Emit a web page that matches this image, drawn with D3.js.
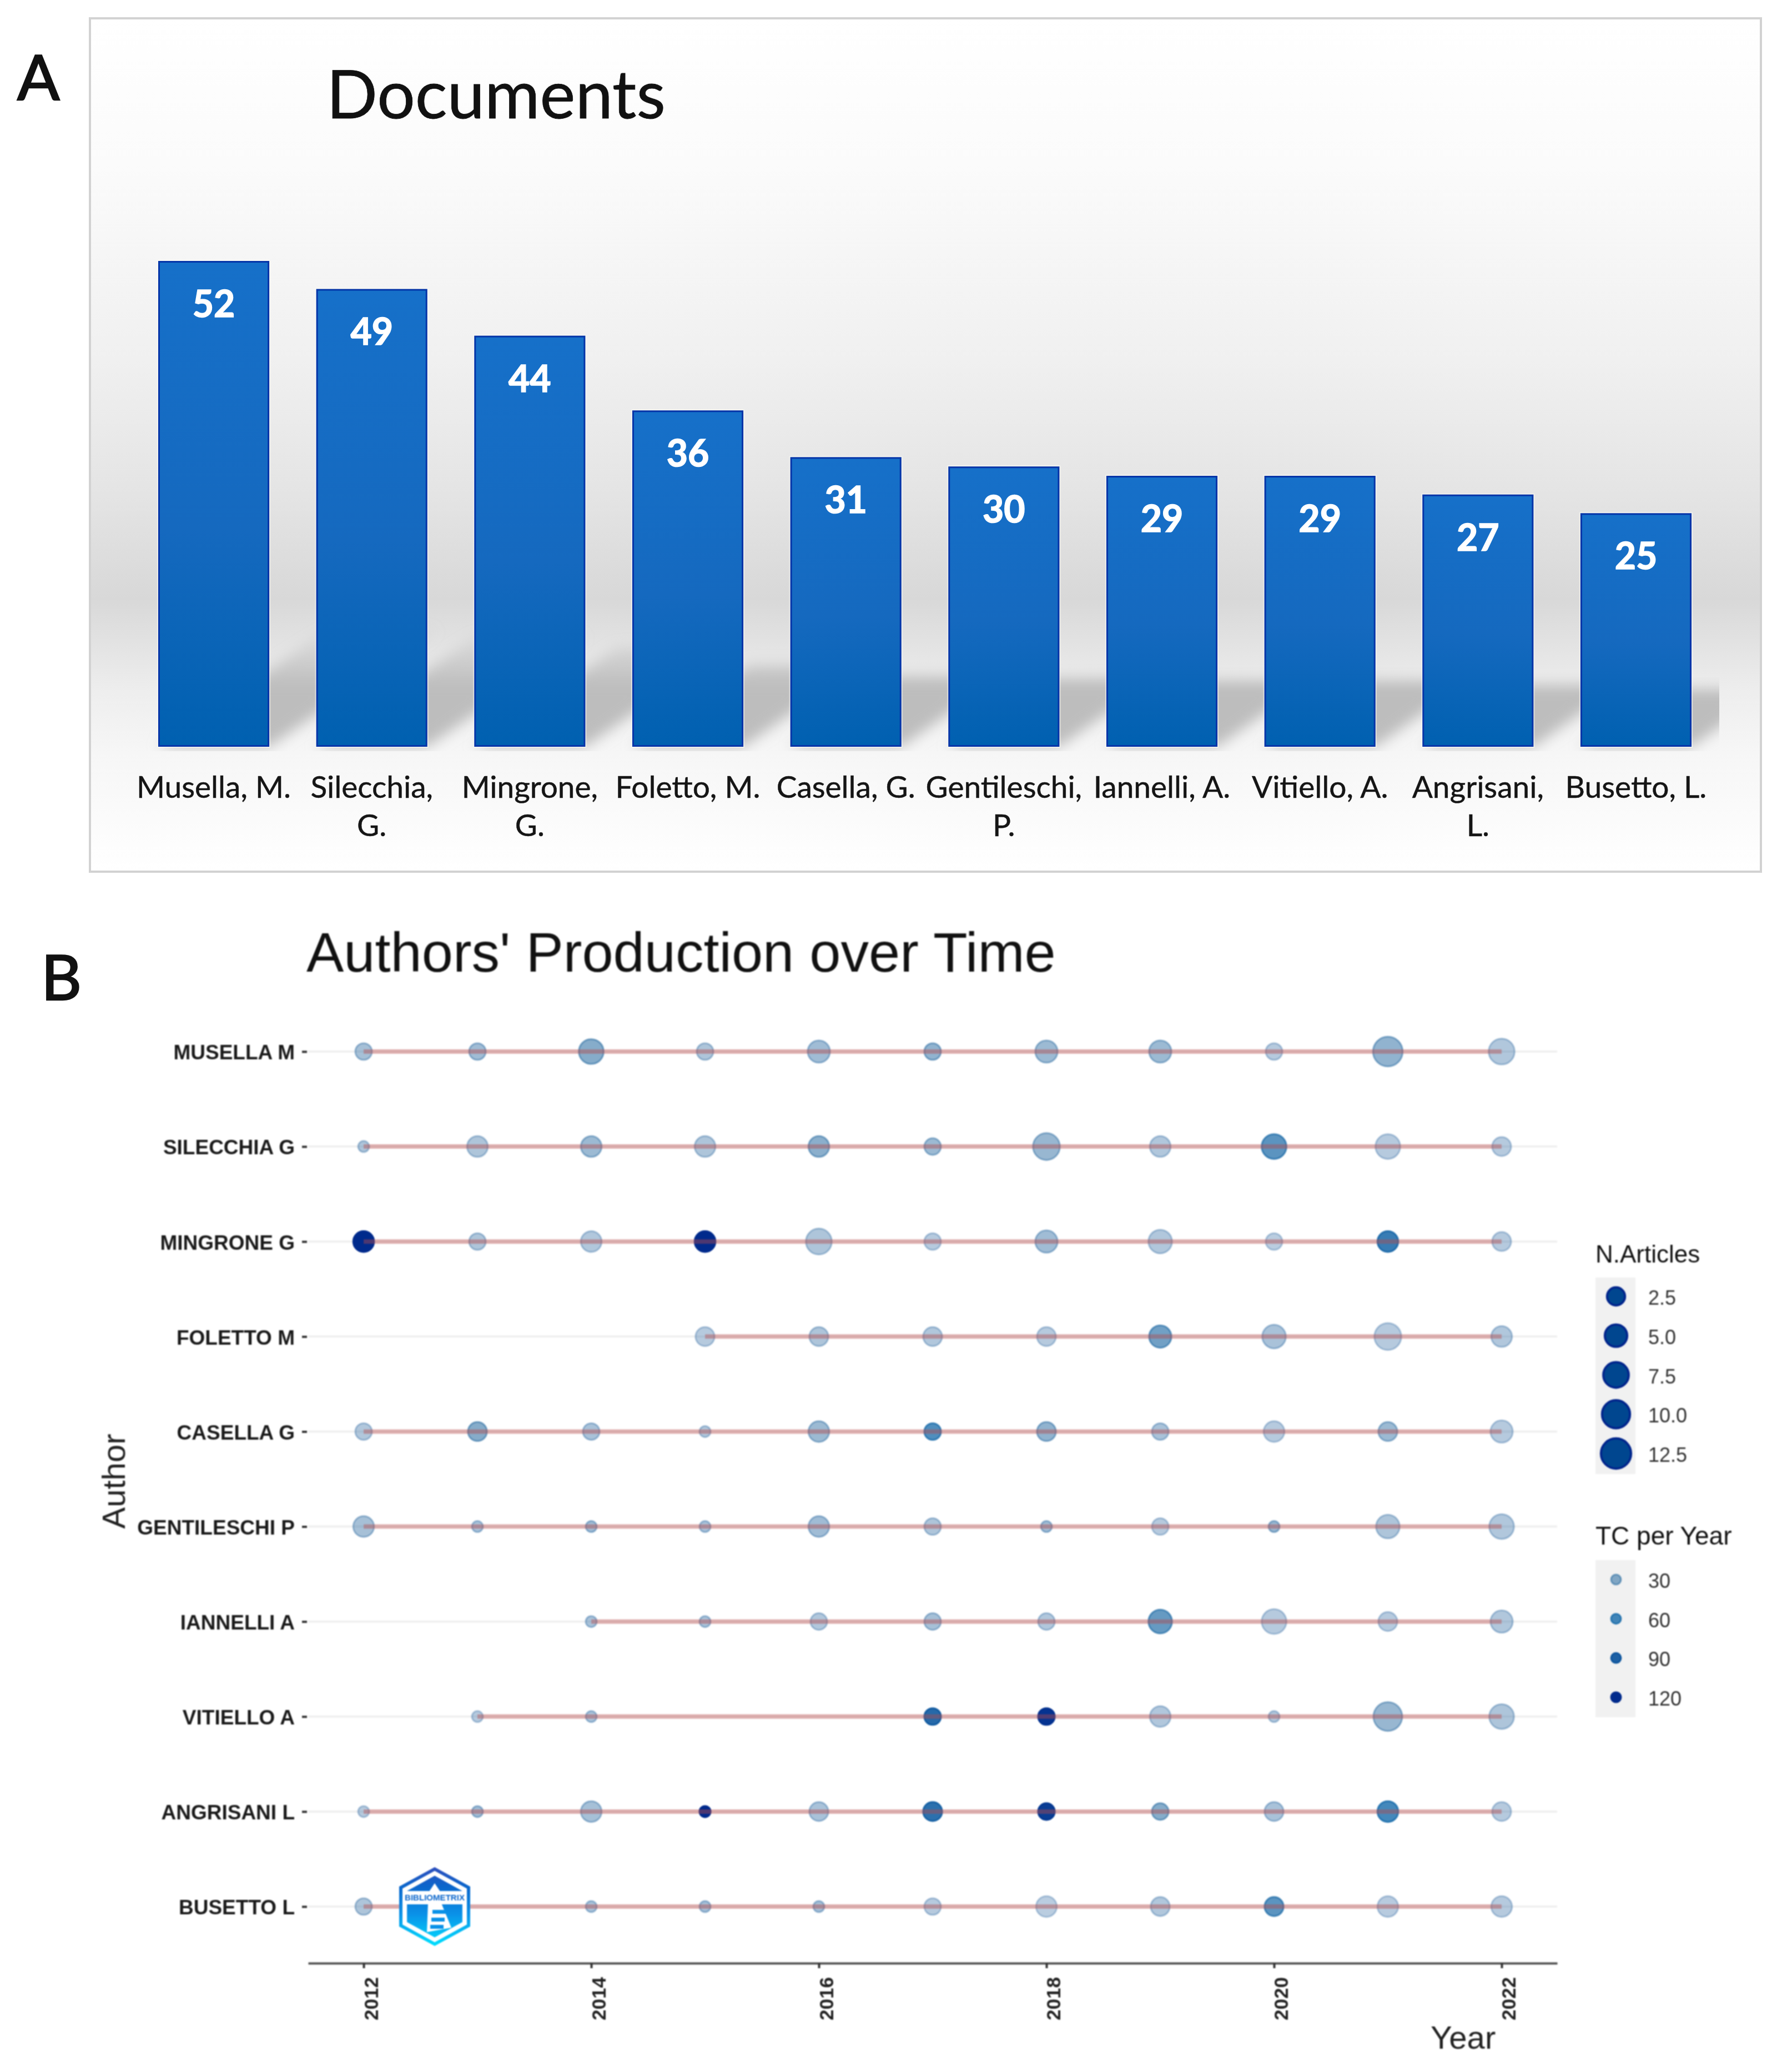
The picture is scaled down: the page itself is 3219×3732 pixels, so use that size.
<!DOCTYPE html>
<html>
<head>
<meta charset="utf-8">
<script src="https://cdn.jsdelivr.net/npm/d3@7/dist/d3.min.js"></script>
<style>
html,body{margin:0;padding:0;background:#fff}
svg{display:block}
</style>
</head>
<body>
<svg id="chart" width="3219" height="3732" viewBox="0 0 3219 3732"></svg>
<script>
// ---------- Panel A data ----------
const categories = ["Musella, M.","Silecchia, G.","Mingrone, G.","Foletto, M.","Casella, G.","Gentileschi, P.","Iannelli, A.","Vitiello, A.","Angrisani, L.","Busetto, L."];
const documents = [52,49,44,36,31,30,29,29,27,25];

// ---------- Panel B data ----------
const authors = ["MUSELLA M","SILECCHIA G","MINGRONE G","FOLETTO M","CASELLA G","GENTILESCHI P","IANNELLI A","VITIELLO A","ANGRISANI L","BUSETTO L"];
const years = [2012,2013,2014,2015,2016,2017,2018,2019,2020,2021,2022];
const yearTicks = [2012,2014,2016,2018,2020,2022];
const articlesByAuthor = [
  [2,2,7,2,5,2,5,5,2,12,8],
  [1,4,4,4,4,2,9,4,7,7,3],
  [4,2,4,4,8,2,5,6,2,4,3],
  [null,null,null,3,3,3,3,5,6,9,4],
  [2,3,2,1,4,2,3,2,4,3,5],
  [4,1,1,1,4,2,1,2,1,6,7],
  [null,null,1,1,2,2,2,6,7,3,5],
  [null,1,1,null,null,2,2,4,1,11,7],
  [1,1,4,1,3,3,2,2,3,4,3],
  [2,null,1,1,1,2,4,3,3,4,4]
];
const tcByAuthor = [
  [15,18,30,12,18,25,20,20,8,25,10],
  [12,12,20,12,28,20,22,10,50,8,8],
  [120,12,10,125,12,8,18,10,6,70,8],
  [null,null,null,8,12,10,8,40,14,8,10],
  [10,30,14,10,20,55,25,14,8,20,8],
  [15,14,18,14,18,12,18,8,22,12,10],
  [null,null,14,14,10,15,10,45,8,8,10],
  [null,8,14,null,null,85,115,10,10,22,12],
  [8,18,15,130,14,80,110,30,14,60,8],
  [12,null,14,16,16,8,6,10,50,7,8]
];
const sizeLegend = [2.5,5,7.5,10,12.5];
const alphaLegend = [30,60,90,120];

const svg = d3.select("#chart");
const defs = svg.append("defs");
const SANS = "'Liberation Sans',Arial,sans-serif";
const HUM = "Lato,'Open Sans',sans-serif";

function stops(grad, list){
  list.forEach(s=>{
    const st = grad.append("stop").attr("offset",s[0]).attr("stop-color",s[1]);
    if(s[2]!==undefined) st.attr("stop-opacity",s[2]);
  });
}
const panelBg = defs.append("linearGradient").attr("id","panelBg")
  .attr("gradientUnits","userSpaceOnUse").attr("x1",0).attr("x2",0).attr("y1",33).attr("y2",1570);
stops(panelBg,[[0,"#ffffff"],[.17,"#fbfbfb"],[.4,"#f0f0f0"],[.56,"#e4e4e4"],[.68,"#d8d8d8"],[.71,"#dedede"],[.79,"#eeeeee"],[.86,"#f6f6f6"],[1,"#ffffff"]]);

const barFill = defs.append("linearGradient").attr("id","barFill").attr("x1",0).attr("x2",0).attr("y1",0).attr("y2",1);
stops(barFill,[[0,"#1670c9"],[.55,"#1569bf"],[1,"#0060b0"]]);

const shadowFill = defs.append("linearGradient").attr("id","shadowFill")
  .attr("gradientUnits","userSpaceOnUse").attr("x1",0).attr("x2",0).attr("y1",1140).attr("y2",1235);
stops(shadowFill,[[0,"#bdbdbd",.15],[1,"#bdbdbd",1]]);

defs.append("filter").attr("id","shadowBlur").attr("x","-20%").attr("y","-20%").attr("width","140%").attr("height","140%")
  .append("feGaussianBlur").attr("stdDeviation",12);
defs.append("clipPath").attr("id","shadowClip").append("rect")
  .attr("x",161).attr("y",33).attr("width",2936).attr("height",1320);

// ---------- Panel A ----------
const A = svg.append("g").style("filter","blur(0.7px)");
A.append("rect").attr("x",162).attr("y",33).attr("width",3010).attr("height",1537)
  .attr("fill","url(#panelBg)").attr("stroke","#d2d2d2").attr("stroke-width",4);

const xBar = d3.scaleBand().domain(categories).range([242.7,3089.3]).paddingInner(.297).paddingOuter(.1485);
const yBar = d3.scaleLinear().domain([0,52]).range([1345,470]);

const shadowG = A.append("g").attr("clip-path","url(#shadowClip)");
shadowG.selectAll("path").data(documents).join("path")
  .attr("d",(d,i)=>{
    const x0 = xBar(categories[i]), x1 = x0 + xBar.bandwidth();
    const h = yBar(0)-yBar(d), dx = h*.347, ht = h*.233+6, b = yBar(0);
    return d3.line()([[x0,b],[x1,b],[x1+dx,b-ht],[x0+dx,b-ht]])+"Z";
  })
  .attr("fill","url(#shadowFill)").style("filter","url(#shadowBlur)");

A.selectAll("rect.halo").data(documents).join("rect").attr("class","halo")
  .attr("x",(d,i)=>xBar(categories[i])-2).attr("width",xBar.bandwidth()+4)
  .attr("y",d=>yBar(d)-2).attr("height",d=>yBar(0)-yBar(d)+4)
  .attr("fill","#fbfbf6").attr("opacity",.55);
A.selectAll("rect.bar").data(documents).join("rect").attr("class","bar")
  .attr("x",(d,i)=>xBar(categories[i])+1.5).attr("width",xBar.bandwidth()-3)
  .attr("y",d=>yBar(d)+1.5).attr("height",d=>yBar(0)-yBar(d)-3)
  .attr("fill","url(#barFill)").attr("stroke","#0434a8").attr("stroke-width",3);

A.selectAll("text.val").data(documents).join("text").attr("class","val")
  .attr("x",(d,i)=>xBar(categories[i])+xBar.bandwidth()/2).attr("y",d=>yBar(d)+101)
  .attr("text-anchor","middle").attr("font-family",HUM).attr("font-weight",700).attr("font-size",66)
  .attr("fill","#fff").attr("stroke","#fff").attr("stroke-width",1.6).text(d=>d);

const catLabels = A.selectAll("text.cat").data(categories).join("text").attr("class","cat")
  .attr("text-anchor","middle").attr("font-family",HUM).attr("font-size",55).attr("fill","#151515")
  .attr("stroke","#151515").attr("stroke-width",.5)
  .attr("y",1437)
  .attr("x",d=>xBar(d)+xBar.bandwidth()/2)
  .text(d=>d);
catLabels.each(function(d){
  const el = d3.select(this);
  if(this.getComputedTextLength() > 285){
    const k = d.lastIndexOf(" "), x = el.attr("x");
    el.text(null);
    el.append("tspan").attr("x",x).text(d.slice(0,k));
    el.append("tspan").attr("x",x).attr("dy",69).text(d.slice(k+1));
  }
});

A.append("text").attr("x",588).attr("y",213).attr("font-family",HUM).attr("font-size",121).attr("fill","#111")
  .attr("stroke","#111").attr("stroke-width",.8).text("Documents");
svg.append("text").attr("x",31).attr("y",180).attr("font-family",HUM).attr("font-size",113).attr("fill","#111")
  .attr("stroke","#111").attr("stroke-width",2.5).text("A");
svg.append("text").attr("x",74).attr("y",1801).attr("font-family",HUM).attr("font-size",113).attr("fill","#111")
  .attr("stroke","#111").attr("stroke-width",2.5).text("B");

// ---------- Panel B ----------
const B = svg.append("g").style("filter","blur(1.1px)");
const x = d3.scaleLinear().domain([2011.512,2022.488]).range([555,2805]);
const y = d3.scalePoint().domain(authors).range([1894,3434]);
const r = d3.scaleSqrt().domain([0,12]).range([11.5,29]);   // applied to (articles - 1)
const alpha = d3.scaleLinear().domain([0,30,60,90,120]).range([.27,.55,.78,.9,1]).clamp(true);
const dotColor = d3.scaleLinear().domain([0,30,60,90,120]).range(["#2e659f","#22689f","#0f67a8","#06509b","#002a8c"]).clamp(true);

B.append("text").attr("x",552).attr("y",1750).attr("font-family",SANS).attr("font-size",101).attr("fill","#111").text("Authors' Production over Time");

B.selectAll("line.grid").data(authors).join("line").attr("class","grid")
  .attr("x1",555).attr("x2",2805).attr("y1",d=>y(d)).attr("y2",d=>y(d))
  .attr("stroke","#f0f0f0").attr("stroke-width",4);

const rows = authors.map((a,i)=>({
  author:a,
  pts:years.map((yr,j)=>({yr,n:articlesByAuthor[i][j],tc:tcByAuthor[i][j]})).filter(p=>p.n!==null)
}));
const row = B.selectAll("g.row").data(rows).join("g").attr("class","row");
row.selectAll("circle").data(d=>d.pts.map(p=>({...p,author:d.author}))).join("circle")
  .attr("cx",d=>x(d.yr)).attr("cy",d=>y(d.author)).attr("r",d=>r(d.n-1)-1.5)
  .attr("fill",d=>dotColor(d.tc)).attr("fill-opacity",d=>alpha(d.tc))
  .attr("stroke",d=>dotColor(d.tc)).attr("stroke-opacity",d=>alpha(d.tc)).attr("stroke-width",3);
const lineGen = d3.line().x(d=>x(d.yr)).y(d=>y(d.author));
row.append("path")
  .attr("d",d=>lineGen(d.pts.map(p=>({...p,author:d.author}))))
  .attr("fill","none").attr("stroke","#b84a4a").attr("stroke-opacity",.42).attr("stroke-width",8);

const xAxis = B.append("g").attr("transform","translate(0,3536)")
  .call(d3.axisBottom(x).tickValues(yearTicks).tickFormat(d3.format("d")).tickSize(9).tickSizeOuter(0));
xAxis.select(".domain").attr("stroke","#555").attr("stroke-width",4);
xAxis.selectAll(".tick line").attr("stroke","#333").attr("stroke-width",4);
xAxis.selectAll(".tick text")
  .attr("transform","rotate(-90)").attr("x",-25).attr("y",25).attr("dy",null)
  .attr("text-anchor","end").attr("font-family",SANS).attr("font-weight",700).attr("font-size",35).attr("fill","#222");

const yAxis = B.append("g").attr("transform","translate(553,0)")
  .call(d3.axisLeft(y).tickSize(9).tickPadding(13));
yAxis.select(".domain").remove();
yAxis.selectAll(".tick line").attr("stroke","#333").attr("stroke-width",4);
yAxis.selectAll(".tick text").attr("font-family",SANS).attr("font-weight",700).attr("font-size",37).attr("fill","#1a1a1a").attr("y",2);

B.append("text").attr("transform","translate(225,2668) rotate(-90)").attr("text-anchor","middle")
  .attr("font-family",SANS).attr("font-size",58).attr("fill","#222").text("Author");
B.append("text").attr("x",2577).attr("y",3690).attr("font-family",SANS).attr("font-size",58).attr("fill","#222").text("Year");

// Legends
function legend(title, titleY, bgY, bgH, keysY, labels, draw, size, fmt){
  const g = B.append("g");
  g.append("text").attr("x",2874).attr("y",titleY).attr("font-family",SANS).attr("font-size",size).attr("fill","#111").text(title);
  g.append("rect").attr("x",2874).attr("y",bgY).attr("width",72).attr("height",bgH).attr("fill","#f1f1f1");
  const it = g.selectAll("g.key").data(labels).join("g").attr("class","key")
    .attr("transform",(d,i)=>`translate(0,${keysY(i)})`);
  draw(it);
  it.append("text").attr("x",2969).attr("dy",15).attr("font-family",SANS).attr("font-size",36).attr("fill","#333").text(fmt);
}
legend("N.Articles",2274,2301,354,d3.scaleLinear().domain([0,4]).range([2335,2618]),sizeLegend,
  it=>it.append("circle").attr("cx",2911).attr("r",d=>r(d-1)-1.5).attr("fill","#00468f").attr("stroke","#00248c").attr("stroke-width",4),44,d3.format(".1f"));
legend("TC per Year",2782,2810,283,d3.scaleLinear().domain([0,3]).range([2845,3057]),alphaLegend,
  it=>it.append("circle").attr("cx",2911).attr("r",9).attr("fill",d=>dotColor(d)).attr("fill-opacity",d=>alpha(d))
        .attr("stroke",d=>dotColor(d)).attr("stroke-opacity",d=>alpha(d)).attr("stroke-width",3),46,d3.format("d"));

// Logo
const logoGrad = defs.append("linearGradient").attr("id","logoGrad")
  .attr("gradientUnits","userSpaceOnUse").attr("x1",0).attr("x2",0).attr("y1",-71).attr("y2",71);
stops(logoGrad,[[0,"#2f4fbd"],[.25,"#0a66cc"],[.6,"#0a92e8"],[1,"#00e0ff"]]);
const hex = k=>d3.line()([[0,-71],[64,-36],[64,36],[0,71],[-64,36],[-64,-36]].map(p=>[p[0]*k,p[1]*k]))+"Z";
const logo = B.append("g").attr("transform","translate(783,3434)");
logo.append("path").attr("d",hex(1)).attr("fill","url(#logoGrad)");
logo.append("path").attr("d",hex(.906)).attr("fill","#fff");
logo.append("path").attr("d",hex(.78)).attr("fill","url(#logoGrad)");
logo.append("path").attr("d",d3.line()([[-58,-28],[58,-28],[58,-4],[-58,-4]])+"Z").attr("fill","#fff");
logo.append("path").attr("d",d3.line()([[0,-42],[-12,-24],[12,-24]])+"Z").attr("fill","#fff");
logo.append("text").attr("x",0).attr("y",-11).attr("text-anchor","middle").attr("font-family",SANS).attr("font-weight",700)
  .attr("font-size",14).attr("textLength",108).attr("lengthAdjust","spacingAndGlyphs").attr("fill","#0a66cc").text("BIBLIOMETRIX");
logo.append("path").attr("d",d3.line()([[-12,-6],[12,-6],[30,38],[-14,46]])+"Z").attr("fill","#fff");
[[-10,6],[-12,20],[-14,33]].forEach(s=>{
  logo.append("rect").attr("x",s[0]+6).attr("y",s[1]).attr("width",24).attr("height",7).attr("fill","#0a92e8");
});
</script>
</body>
</html>
